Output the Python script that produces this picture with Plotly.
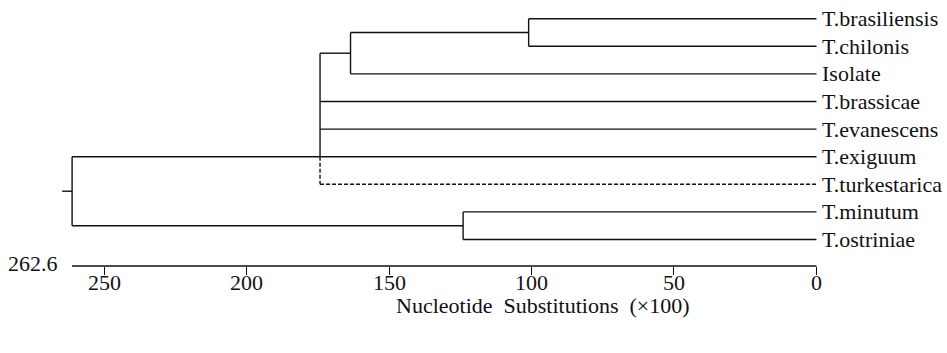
import plotly.graph_objects as go

# ---- data ----
leaf_names = ["T.brasiliensis", "T.chilonis", "Isolate", "T.brassicae", "T.evanescens",
              "T.exiguum", "T.turkestarica", "T.minutum", "T.ostriniae"]
node_names = ["n1", "n2", "n3", "n4", "root"]
node_heights = [101.0, 163.5, 174.2, 124.0, 261.2]
node_children = [
    ["T.brasiliensis", "T.chilonis"],
    ["n1", "Isolate"],
    ["n2", "T.brassicae", "T.evanescens", "T.exiguum", "T.turkestarica"],
    ["T.minutum", "T.ostriniae"],
    ["n3", "n4"],
]
node_anchor = [None, None, "T.exiguum", None, None]
dashed_leaves = ["T.turkestarica"]
axis_max_label = "262.6"
tick_vals = [250, 200, 150, 100, 50, 0]
tick_text = ["250", "200", "150", "100", "50", "0"]
axis_title = "Nucleotide  Substitutions  (×100)"

FONT = "Liberation Serif, Times New Roman, serif"
INK = "#111111"

# ---- positions ----
ypos = {n: i for i, n in enumerate(leaf_names)}
hpos = {n: 0.0 for n in leaf_names}
for name, h, ch, anc in zip(node_names, node_heights, node_children, node_anchor):
    hpos[name] = h
    if anc is not None:
        ypos[name] = ypos[anc]
    else:
        ypos[name] = (ypos[ch[0]] + ypos[ch[-1]]) / 2.0

solid_x, solid_y, dash_x, dash_y = [], [], [], []
for name, ch in zip(node_names, node_children):
    h = hpos[name]
    ys = [ypos[c] for c in ch]
    if ch[-1] in dashed_leaves:
        solid_x += [h, h, None]; solid_y += [ys[0], ys[-2], None]
        dash_x += [h, h, None]; dash_y += [ys[-2], ys[-1], None]
    else:
        solid_x += [h, h, None]; solid_y += [min(ys), max(ys), None]
    for c in ch:
        if c in dashed_leaves:
            dash_x += [h, hpos[c], None]; dash_y += [ypos[c], ypos[c], None]
        else:
            solid_x += [h, hpos[c], None]; solid_y += [ypos[c], ypos[c], None]
root_h = hpos["root"]
solid_x += [root_h, root_h + 3.5, None]; solid_y += [ypos["root"], ypos["root"], None]

fig = go.Figure()
fig.add_trace(go.Scatter(x=solid_x, y=solid_y, mode="lines",
                         line=dict(color=INK, width=1.4), hoverinfo="skip", showlegend=False))
fig.add_trace(go.Scatter(x=dash_x, y=dash_y, mode="lines",
                         line=dict(color=INK, width=1.4, dash="4px,2px"), hoverinfo="skip", showlegend=False))

annotations = []
for n in leaf_names:
    annotations.append(dict(x=0, y=ypos[n], xref="x", yref="y", text=n, showarrow=False,
                            xanchor="left", yanchor="middle", xshift=4,
                            font=dict(family=FONT, size=22, color=INK)))
for v, t in zip(tick_vals, tick_text):
    annotations.append(dict(x=v, y=0, xref="x", yref="paper", text=t, showarrow=False,
                            xanchor="center", yanchor="middle", yshift=-16,
                            font=dict(family=FONT, size=22, color=INK)))
annotations.append(dict(x=root_h, y=0, xref="x", yref="paper", text=axis_max_label, showarrow=False,
                        xanchor="right", yanchor="middle", xshift=-12, yshift=3,
                        font=dict(family=FONT, size=22, color=INK)))
annotations.append(dict(x=0.573, y=-0.149, xref="paper", yref="paper", text=axis_title, showarrow=False,
                        xanchor="center", yanchor="middle",
                        font=dict(family=FONT, size=22, color=INK)))

shapes = [dict(type="line", xref="x", yref="paper", x0=root_h, x1=0, y0=0, y1=0,
               line=dict(color=INK, width=1.4))]

fig.update_layout(
    width=947, height=353,
    margin=dict(l=0, r=0, t=0, b=87),
    paper_bgcolor="white", plot_bgcolor="white",
    xaxis=dict(range=[286.5, -45.8], showgrid=False, zeroline=False, showline=False,
               tickvals=tick_vals, ticks="outside", ticklen=8, showticklabels=False,
               tickwidth=1.4, tickcolor=INK),
    yaxis=dict(range=[8.96, -0.678], showgrid=False, zeroline=False, showline=False,
               showticklabels=False, ticks=""),
    annotations=annotations, shapes=shapes,
)

fig.write_html("out.html")
